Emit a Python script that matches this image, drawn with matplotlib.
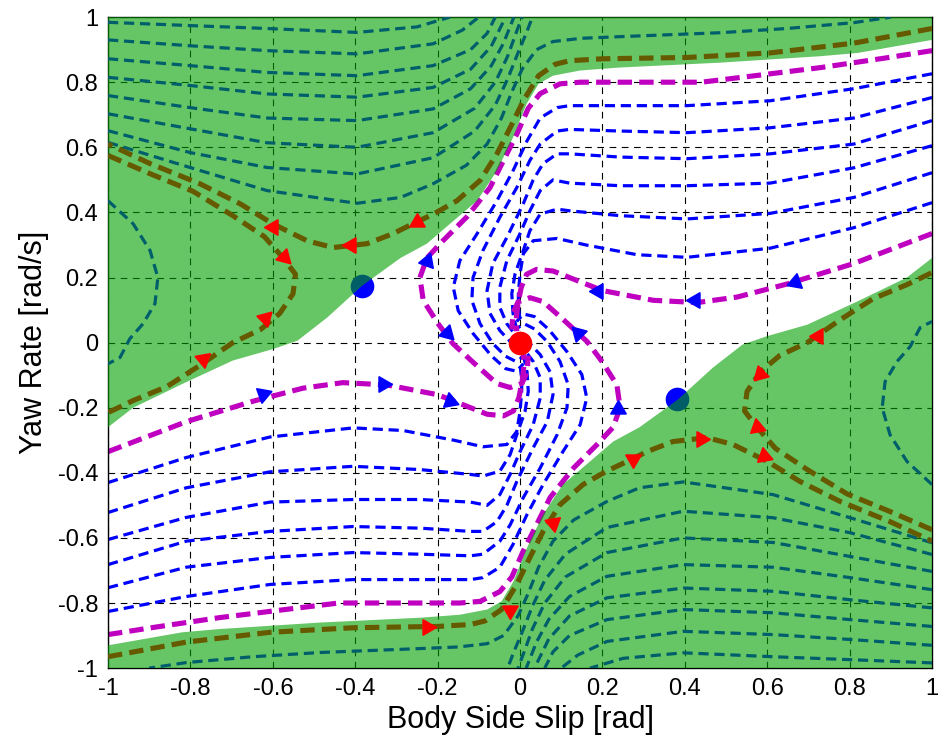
import matplotlib
matplotlib.use("Agg")
import matplotlib.pyplot as plt

plt.rcParams["font.family"] = ["Liberation Sans", "DejaVu Sans"]

# ---- data (beta [rad], yaw rate [rad/s]) ----

# green (unstable) regions
GREEN_UP = [(-1, 1), (1, 1), (1, 0.93), (0.82, 0.89), (0.73, 0.88), (0.485, 0.86), (0.24, 0.845),
            (0.146, 0.836), (0.08, 0.82), (0.045, 0.795), (0.016, 0.734), (-0.017, 0.63),
            (-0.056, 0.528), (-0.104, 0.436), (-0.17, 0.365), (-0.226, 0.304), (-0.29, 0.26),
            (-0.383, 0.175), (-0.468, 0.077), (-0.54, 0.006), (-0.6, -0.02), (-0.697, -0.055),
            (-0.818, -0.126), (-0.939, -0.2), (-1, -0.26)]
GREEN_DN = [(1, -1), (-1, -1), (-1, -0.93), (-0.82, -0.89), (-0.73, -0.88), (-0.485, -0.86),
            (-0.24, -0.845), (-0.146, -0.836), (-0.08, -0.82), (-0.045, -0.795), (-0.016, -0.734),
            (0.017, -0.63), (0.056, -0.528), (0.104, -0.436), (0.17, -0.365), (0.226, -0.304),
            (0.29, -0.26), (0.383, -0.175), (0.468, -0.077), (0.54, -0.006), (0.6, 0.02),
            (0.697, 0.055), (0.818, 0.126), (0.939, 0.2), (1, 0.26)]

# magenta trajectories (boundary of the stable set)
MAGENTA = [
    [(1.0, 0.897), (0.89, 0.875), (0.73, 0.845), (0.57, 0.82), (0.44, 0.80), (0.24, 0.80), (0.146, 0.80),
     (0.097, 0.795), (0.049, 0.765), (0.02, 0.72), (-0.008, 0.64), (-0.032, 0.58), (-0.073, 0.476),
     (-0.13, 0.385), (-0.187, 0.313), (-0.226, 0.26), (-0.243, 0.2), (-0.235, 0.13), (-0.2, 0.06),
     (-0.163, -0.003), (-0.11, -0.065), (-0.056, -0.126), (-0.024, -0.138), (0.005, -0.125),
     (0.017, -0.09), (0.02, -0.04)],
    [(1.0, 0.335), (0.81, 0.243), (0.648, 0.18), (0.527, 0.14), (0.43, 0.123), (0.323, 0.13), (0.2, 0.16),
     (0.12, 0.2), (0.08, 0.22), (0.04, 0.225), (0.016, 0.21), (0.003, 0.17), (-0.005, 0.12),
     (-0.01, 0.065), (-0.008, 0.035)],
    [(-1.0, -0.897), (-0.89, -0.875), (-0.73, -0.845), (-0.57, -0.82), (-0.44, -0.80), (-0.24, -0.80),
     (-0.146, -0.80), (-0.097, -0.795), (-0.049, -0.765), (-0.02, -0.72), (0.008, -0.64), (0.032, -0.58),
     (0.073, -0.476), (0.13, -0.385), (0.187, -0.313), (0.226, -0.26), (0.243, -0.2), (0.235, -0.13),
     (0.2, -0.06), (0.163, 0.003), (0.11, 0.065), (0.056, 0.126), (0.024, 0.138), (-0.005, 0.125),
     (-0.017, 0.09), (-0.02, 0.04)],
    [(-1.0, -0.335), (-0.81, -0.243), (-0.648, -0.18), (-0.527, -0.14), (-0.43, -0.123), (-0.323, -0.13),
     (-0.2, -0.16), (-0.12, -0.2), (-0.08, -0.22), (-0.04, -0.225), (-0.016, -0.21), (-0.003, -0.17),
     (0.005, -0.12), (0.01, -0.065), (0.008, -0.035)],
]

# blue trajectories converging to the origin
BLUE = [
    [(1.0, 0.826), (0.81, 0.78), (0.607, 0.743), (0.405, 0.728), (0.2, 0.728), (0.12, 0.728), (0.09, 0.722),
     (0.049, 0.69), (0.017, 0.62), (-0.017, 0.528), (-0.056, 0.436), (-0.104, 0.335), (-0.146, 0.252),
     (-0.162, 0.17), (-0.15, 0.098), (-0.114, 0.028), (-0.07, -0.04), (-0.035, -0.08), (-0.008, -0.088),
     (0.008, -0.065)],
    [(1.0, 0.753), (0.81, 0.69), (0.607, 0.66), (0.405, 0.645), (0.243, 0.65), (0.12, 0.655), (0.09, 0.65),
     (0.049, 0.61), (0.024, 0.56), (-0.008, 0.476), (-0.049, 0.385), (-0.09, 0.283), (-0.114, 0.2),
     (-0.117, 0.13), (-0.097, 0.058), (-0.066, -0.003), (-0.035, -0.042), (-0.01, -0.058), (0.006, -0.045)],
    [(1.0, 0.682), (0.81, 0.61), (0.607, 0.58), (0.405, 0.565), (0.243, 0.57), (0.12, 0.58), (0.09, 0.58),
     (0.056, 0.55), (0.032, 0.5), (0.008, 0.427), (-0.032, 0.323), (-0.066, 0.243), (-0.08, 0.16),
     (-0.073, 0.09), (-0.049, 0.037), (-0.025, 0.005), (-0.005, -0.02), (0.008, -0.02)],
    [(1.0, 0.605), (0.81, 0.537), (0.607, 0.49), (0.405, 0.482), (0.243, 0.482), (0.12, 0.49), (0.08, 0.5),
     (0.049, 0.467), (0.024, 0.405), (0.0, 0.335), (-0.032, 0.252), (-0.049, 0.17), (-0.049, 0.108),
     (-0.032, 0.058), (-0.015, 0.03)],
    [(1.0, 0.522), (0.81, 0.446), (0.607, 0.397), (0.405, 0.38), (0.243, 0.39), (0.12, 0.405), (0.09, 0.41),
     (0.049, 0.395), (0.024, 0.344), (0.008, 0.283), (-0.012, 0.212), (-0.02, 0.15), (-0.017, 0.09),
     (-0.01, 0.05)],
    [(1.0, 0.43), (0.81, 0.353), (0.607, 0.29), (0.405, 0.262), (0.284, 0.27), (0.16, 0.30), (0.09, 0.32),
     (0.032, 0.313), (0.008, 0.273), (0.0, 0.212), (-0.004, 0.15), (-0.004, 0.11), (0.0, 0.07)],
    [(-1.0, -0.826), (-0.81, -0.78), (-0.607, -0.743), (-0.405, -0.728), (-0.2, -0.728), (-0.12, -0.728),
     (-0.09, -0.722), (-0.049, -0.69), (-0.017, -0.62), (0.017, -0.528), (0.056, -0.436), (0.104, -0.335),
     (0.146, -0.252), (0.162, -0.17), (0.15, -0.098), (0.114, -0.028), (0.07, 0.04), (0.035, 0.08),
     (0.008, 0.088), (-0.008, 0.065)],
    [(-1.0, -0.753), (-0.81, -0.69), (-0.607, -0.66), (-0.405, -0.645), (-0.243, -0.65), (-0.12, -0.655),
     (-0.09, -0.65), (-0.049, -0.61), (-0.024, -0.56), (0.008, -0.476), (0.049, -0.385), (0.09, -0.283),
     (0.114, -0.2), (0.117, -0.13), (0.097, -0.058), (0.066, 0.003), (0.035, 0.042), (0.01, 0.058),
     (-0.006, 0.045)],
    [(-1.0, -0.682), (-0.81, -0.61), (-0.607, -0.58), (-0.405, -0.565), (-0.243, -0.57), (-0.12, -0.58),
     (-0.09, -0.58), (-0.056, -0.55), (-0.032, -0.5), (-0.008, -0.427), (0.032, -0.323), (0.066, -0.243),
     (0.08, -0.16), (0.073, -0.09), (0.049, -0.037), (0.025, -0.005), (0.005, 0.02), (-0.008, 0.02)],
    [(-1.0, -0.605), (-0.81, -0.537), (-0.607, -0.49), (-0.405, -0.482), (-0.243, -0.482), (-0.12, -0.49),
     (-0.08, -0.5), (-0.049, -0.467), (-0.024, -0.405), (0.0, -0.335), (0.032, -0.252), (0.049, -0.17),
     (0.049, -0.108), (0.032, -0.058), (0.015, -0.03)],
    [(-1.0, -0.522), (-0.81, -0.446), (-0.607, -0.397), (-0.405, -0.38), (-0.243, -0.39), (-0.12, -0.405),
     (-0.09, -0.41), (-0.049, -0.395), (-0.024, -0.344), (-0.008, -0.283), (0.012, -0.212), (0.02, -0.15),
     (0.017, -0.09), (0.01, -0.05)],
    [(-1.0, -0.43), (-0.81, -0.353), (-0.607, -0.29), (-0.405, -0.262), (-0.284, -0.27), (-0.16, -0.30),
     (-0.09, -0.32), (-0.032, -0.313), (-0.008, -0.273), (0.0, -0.212), (0.004, -0.15), (0.004, -0.11),
     (0.0, -0.07)],
]

# teal trajectories inside the green regions
TEAL = [
    [(-1.0, 0.984), (-0.801, 0.974), (-0.614, 0.965), (-0.396, 0.953), (-0.25, 0.97), (-0.17, 1.0)],
    [(-1.0, 0.93), (-0.801, 0.912), (-0.614, 0.897), (-0.396, 0.887), (-0.211, 0.918), (-0.14, 0.96), (-0.1, 1.0)],
    [(-1.0, 0.872), (-0.801, 0.851), (-0.614, 0.83), (-0.396, 0.82), (-0.211, 0.851), (-0.12, 0.9),
     (-0.08, 0.95), (-0.06, 1.0)],
    [(-1.0, 0.815), (-0.801, 0.79), (-0.614, 0.764), (-0.396, 0.754), (-0.211, 0.784), (-0.12, 0.84),
     (-0.07, 0.91), (-0.035, 1.0)],
    [(-1.0, 0.759), (-0.801, 0.722), (-0.614, 0.69), (-0.396, 0.682), (-0.211, 0.718), (-0.12, 0.78),
     (-0.07, 0.85), (-0.04, 0.92), (-0.015, 1.0)],
    [(-1.0, 0.703), (-0.801, 0.657), (-0.614, 0.614), (-0.396, 0.6), (-0.211, 0.645), (-0.11, 0.72),
     (-0.06, 0.8), (-0.03, 0.88), (-0.01, 0.95), (0.005, 1.0)],
    [(-1.0, 0.651), (-0.801, 0.584), (-0.614, 0.538), (-0.396, 0.518), (-0.211, 0.568), (-0.11, 0.65),
     (-0.06, 0.73), (-0.03, 0.81), (-0.005, 0.89), (0.015, 0.95), (0.03, 1.0)],
    [(-1.0, 0.615), (-0.801, 0.538), (-0.614, 0.467), (-0.396, 0.428), (-0.29, 0.446), (-0.211, 0.488),
     (-0.13, 0.545), (-0.08, 0.61), (-0.045, 0.69), (-0.02, 0.77), (0.005, 0.84), (0.04, 0.9), (0.08, 0.925),
     (0.15, 0.935), (0.243, 0.94), (0.485, 0.952), (0.648, 0.965), (0.81, 0.983), (0.9, 1.0)],
    [(1.0, -0.984), (0.801, -0.974), (0.614, -0.965), (0.396, -0.953), (0.25, -0.97), (0.17, -1.0)],
    [(1.0, -0.93), (0.801, -0.912), (0.614, -0.897), (0.396, -0.887), (0.211, -0.918), (0.14, -0.96), (0.1, -1.0)],
    [(1.0, -0.872), (0.801, -0.851), (0.614, -0.83), (0.396, -0.82), (0.211, -0.851), (0.12, -0.9),
     (0.08, -0.95), (0.06, -1.0)],
    [(1.0, -0.815), (0.801, -0.79), (0.614, -0.764), (0.396, -0.754), (0.211, -0.784), (0.12, -0.84),
     (0.07, -0.91), (0.035, -1.0)],
    [(1.0, -0.759), (0.801, -0.722), (0.614, -0.69), (0.396, -0.682), (0.211, -0.718), (0.12, -0.78),
     (0.07, -0.85), (0.04, -0.92), (0.015, -1.0)],
    [(1.0, -0.703), (0.801, -0.657), (0.614, -0.614), (0.396, -0.6), (0.211, -0.645), (0.11, -0.72),
     (0.06, -0.8), (0.03, -0.88), (0.01, -0.95), (-0.005, -1.0)],
    [(1.0, -0.651), (0.801, -0.584), (0.614, -0.538), (0.396, -0.518), (0.211, -0.568), (0.11, -0.65),
     (0.06, -0.73), (0.03, -0.81), (0.005, -0.89), (-0.015, -0.95), (-0.03, -1.0)],
    [(1.0, -0.615), (0.801, -0.538), (0.614, -0.467), (0.396, -0.428), (0.29, -0.446), (0.211, -0.488),
     (0.13, -0.545), (0.08, -0.61), (0.045, -0.69), (0.02, -0.77), (-0.005, -0.84), (-0.04, -0.9),
     (-0.08, -0.925), (-0.15, -0.935), (-0.243, -0.94), (-0.485, -0.952), (-0.648, -0.965), (-0.81, -0.983),
     (-0.9, -1.0)],
    [(-1.0, 0.436), (-0.939, 0.365), (-0.898, 0.283), (-0.879, 0.2), (-0.886, 0.12), (-0.915, 0.058),
     (-0.947, 0.012), (-0.971, -0.046), (-1.0, -0.065)],
    [(1.0, -0.436), (0.939, -0.365), (0.898, -0.283), (0.879, -0.2), (0.886, -0.12), (0.915, -0.058),
     (0.947, -0.012), (0.971, 0.046), (1.0, 0.065)],
]

# olive separatrices
OLIVE = [
    [(1.0, 0.965), (0.81, 0.92), (0.607, 0.89), (0.405, 0.876), (0.2, 0.872), (0.12, 0.866), (0.085, 0.855),
     (0.045, 0.82), (0.008, 0.743), (-0.024, 0.66), (-0.056, 0.58), (-0.097, 0.498), (-0.153, 0.436),
     (-0.21, 0.395), (-0.26, 0.365), (-0.308, 0.335), (-0.371, 0.304), (-0.454, 0.292), (-0.517, 0.313),
     (-0.6, 0.365), (-0.68, 0.427), (-0.777, 0.488), (-0.898, 0.55), (-1.0, 0.61)],
    [(-1.0, 0.575), (-0.9, 0.52), (-0.794, 0.465), (-0.697, 0.39), (-0.62, 0.325), (-0.575, 0.26),
     (-0.545, 0.21), (-0.551, 0.15), (-0.583, 0.09), (-0.63, 0.04), (-0.697, 0.0), (-0.777, -0.07),
     (-0.857, -0.135), (-0.939, -0.178), (-1.0, -0.215)],
    [(-1.0, -0.965), (-0.81, -0.92), (-0.607, -0.89), (-0.405, -0.876), (-0.2, -0.872), (-0.12, -0.866),
     (-0.085, -0.855), (-0.045, -0.82), (-0.008, -0.743), (0.024, -0.66), (0.056, -0.58), (0.097, -0.498),
     (0.153, -0.436), (0.21, -0.395), (0.26, -0.365), (0.308, -0.335), (0.371, -0.304), (0.454, -0.292),
     (0.517, -0.313), (0.6, -0.365), (0.68, -0.427), (0.777, -0.488), (0.898, -0.55), (1.0, -0.61)],
    [(1.0, -0.575), (0.9, -0.52), (0.794, -0.465), (0.697, -0.39), (0.62, -0.325), (0.575, -0.26),
     (0.545, -0.21), (0.551, -0.15), (0.583, -0.09), (0.63, -0.04), (0.697, 0.0), (0.777, 0.07),
     (0.857, 0.135), (0.939, 0.178), (1.0, 0.215)],
]

# direction arrows: (x, y, heading in degrees on screen)
RED_ARROWS = [(-0.6, 0.355, -60), (-0.572, 0.262, -45), (-0.62, 0.075, 45), (-0.77, -0.05, 40),
              (-0.41, 0.30, 180), (-0.25, 0.372, 210), (0.723, 0.02, 60), (0.583, -0.096, 225),
              (0.575, -0.26, 100), (0.592, -0.348, 100), (0.44, -0.295, 0), (0.275, -0.357, 30),
              (0.08, -0.553, 160), (-0.225, -0.875, 0), (-0.025, -0.82, 150)]
BLUE_ARROWS = [(-0.226, 0.25, -50), (-0.177, 0.03, -45), (0.14, 0.028, 135), (0.238, -0.203, 90),
               (0.19, 0.16, 180), (0.425, 0.13, 180), (0.667, 0.185, 200), (-0.624, -0.157, 20),
               (-0.333, -0.126, 0), (-0.17, -0.178, -20)]

SADDLES = [(-0.383, 0.175), (0.38, -0.172)]
FOCUS = (0.0, 0.0)

TICKS = [-1, -0.8, -0.6, -0.4, -0.2, 0, 0.2, 0.4, 0.6, 0.8, 1]
TICK_LABELS = ["-1", "-0.8", "-0.6", "-0.4", "-0.2", "0", "0.2", "0.4", "0.6", "0.8", "1"]


def xy(curve):
    return [p[0] for p in curve], [p[1] for p in curve]


fig = plt.figure(figsize=(9.5, 7.44), dpi=100)
ax = fig.add_axes([0.1137, 0.102, 0.8674, 0.875])

ax.set_xlim(-1, 1)
ax.set_ylim(-1, 1)
ax.set_xticks(TICKS)
ax.set_xticklabels(TICK_LABELS)
ax.set_yticks(TICKS)
ax.set_yticklabels(TICK_LABELS)
ax.tick_params(direction="in", length=0, labelsize=17, pad=7)
ax.grid(True, color="black", linestyle=(0, (6, 5)), linewidth=0.8, zorder=0.5)
ax.set_axisbelow(True)

for c in BLUE:
    ax.plot(*xy(c), color="#0000ff", lw=2.3, dashes=(3.2, 1.8), zorder=2)
for c in MAGENTA:
    ax.plot(*xy(c), color="#c000c0", lw=3.7, dashes=(2.8, 1.4), zorder=2.2)

for sx, sy in SADDLES:
    ax.plot(sx, sy, "o", color="#0000ff", ms=16, zorder=2.6)

# green fill drawn translucent over grid, spines and saddle markers
for poly in (GREEN_UP, GREEN_DN):
    gx, gy = xy(poly)
    ax.fill(gx, gy, color="#00a000", alpha=0.6, lw=0, zorder=3)

for c in TEAL:
    ax.plot(*xy(c), color="#005f6a", lw=2.3, dashes=(3.2, 1.8), zorder=4)
for c in OLIVE:
    ax.plot(*xy(c), color="#665a00", lw=3.7, dashes=(2.8, 1.4), zorder=4.2)

for x, y, a in RED_ARROWS:
    ax.plot(x, y, marker=(3, 0, a - 90), color="red", ms=13, ls="none", zorder=6)
for x, y, a in BLUE_ARROWS:
    ax.plot(x, y, marker=(3, 0, a - 90), color="#0000ff", ms=13, ls="none", zorder=6)

ax.plot(FOCUS[0], FOCUS[1], "o", color="red", ms=16, zorder=7)

for s in ax.spines.values():
    s.set_linewidth(1.0)

ax.set_xlabel("Body Side Slip [rad]", fontsize=22, labelpad=4)
ax.set_ylabel("Yaw Rate [rad/s]", fontsize=22, labelpad=6)

fig.savefig("out.png", dpi=100)
